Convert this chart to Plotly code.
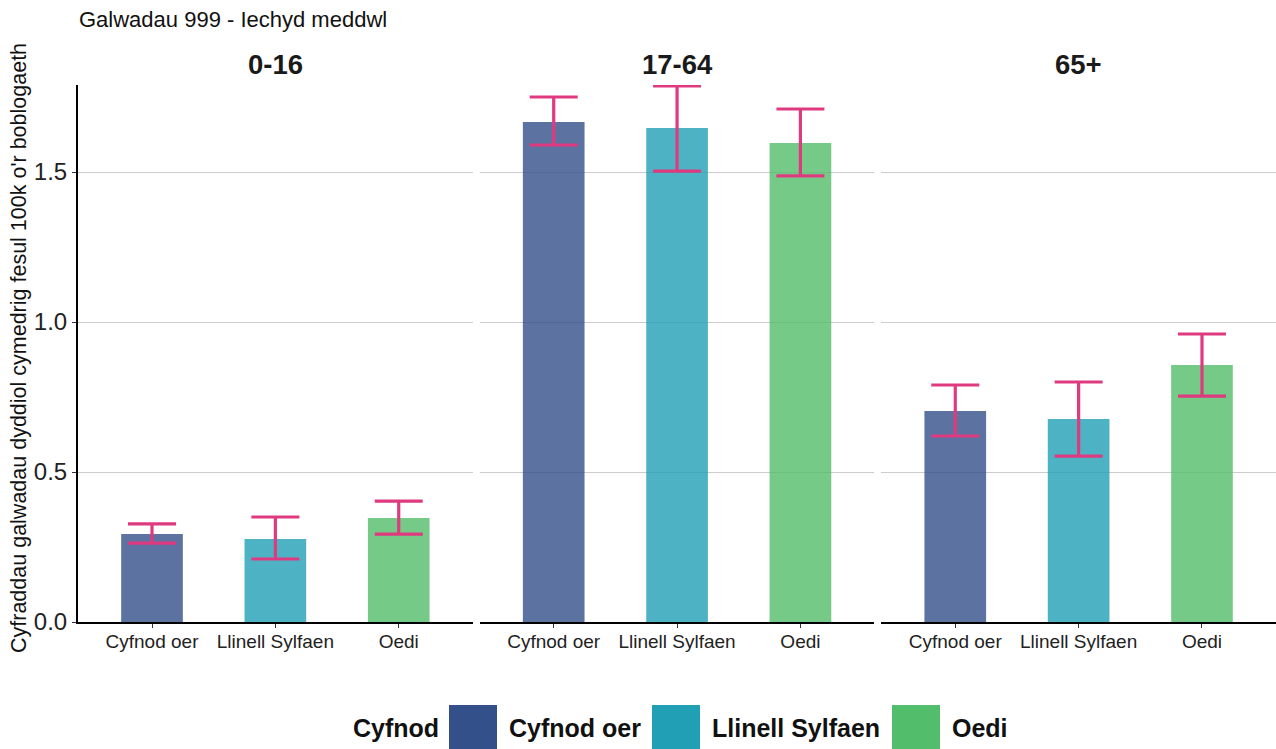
"""999 mental-health calls: mean daily rate per 100k by period, faceted by age group."""
import plotly.graph_objects as go

periods = ["Cyfnod oer", "Llinell Sylfaen", "Oedi"]
age_groups = ["0-16", "17-64", "65+"]

rate_0_16 = [0.293, 0.277, 0.347]
upper_0_16 = [0.327, 0.350, 0.403]
lower_0_16 = [0.263, 0.210, 0.293]

rate_17_64 = [1.667, 1.647, 1.597]
upper_17_64 = [1.750, 1.787, 1.710]
lower_17_64 = [1.590, 1.503, 1.487]

rate_65 = [0.703, 0.677, 0.857]
upper_65 = [0.790, 0.800, 0.960]
lower_65 = [0.620, 0.553, 0.753]

y_ticks = [0.0, 0.5, 1.0, 1.5]

PERIOD_COLORS = ["#33508A", "#21A0B5", "#52BD6A"]
ERR_COLOR = "#DF3A80"
FONT = "Liberation Sans, Arial, sans-serif"

W, H = 1276, 749
ML, MR, MT, MB = 78, 0, 85, 127
PW, PH = W - ML - MR, H - MT - MB


def px_x(px):
    return (px - ML) / PW


def px_y(py):
    return (H - MB - py) / PH


panels = [
    (rate_0_16, upper_0_16, lower_0_16),
    (rate_17_64, upper_17_64, lower_17_64),
    (rate_65, upper_65, lower_65),
]
domains = [[0.0, 0.3295], [0.3353, 0.6648], [0.6705, 1.0]]

fig = go.Figure()
layout_axes = {}
for i, (rates, upper, lower) in enumerate(panels):
    suffix = "" if i == 0 else str(i + 1)
    fig.add_trace(go.Bar(
        x=periods,
        y=rates,
        xaxis="x" + suffix,
        yaxis="y" + suffix,
        marker=dict(color=PERIOD_COLORS, opacity=0.8, line=dict(width=0)),
        error_y=dict(
            type="data",
            symmetric=False,
            array=[u - r for u, r in zip(upper, rates)],
            arrayminus=[r - l for r, l in zip(rates, lower)],
            color=ERR_COLOR,
            thickness=3.2,
            width=24,
        ),
        showlegend=False,
    ))
    layout_axes["xaxis" + suffix] = dict(
        domain=domains[i],
        anchor="y" + suffix,
        range=[-0.6, 2.6],
        showline=True,
        linecolor="black",
        linewidth=2,
        ticks="outside",
        ticklen=4,
        tickcolor="#333333",
        ticklabelstandoff=-3,
        tickfont=dict(size=19, color="#222222", family=FONT),
        showgrid=False,
    )
    layout_axes["yaxis" + suffix] = dict(
        anchor="x" + suffix,
        range=[0, 1.79],
        tickvals=y_ticks,
        tickformat=".1f",
        showgrid=True,
        gridcolor="#CCCCCC",
        gridwidth=1,
        zeroline=False,
        showline=(i == 0),
        linecolor="black",
        linewidth=2,
        ticks="outside" if i == 0 else "",
        ticklen=4,
        tickcolor="#333333",
        showticklabels=(i == 0),
        tickfont=dict(size=24, color="#222222", family=FONT),
    )
    if i > 0:
        layout_axes["yaxis" + suffix]["matches"] = "y"

annotations = []
# facet strip titles
for i, grp in enumerate(age_groups):
    annotations.append(dict(
        text=f"<b>{grp}</b>", xref="paper", yref="paper",
        x=(domains[i][0] + domains[i][1]) / 2, y=px_y(64),
        showarrow=False, xanchor="center", yanchor="middle",
        font=dict(size=27.5, color="#1a1a1a", family=FONT),
    ))

# y axis title
annotations.append(dict(
    text="Cyfraddau galwadau dyddiol cymedrig fesul 100k o'r boblogaeth",
    xref="paper", yref="paper", x=px_x(19), y=px_y(348),
    textangle=-90, showarrow=False, xanchor="center", yanchor="middle",
    font=dict(size=21.5, color="#111111", family=FONT),
))

# legend drawn by hand to get the large ggplot-style keys
shapes = []
annotations.append(dict(
    text="<b>Cyfnod</b>", xref="paper", yref="paper",
    x=px_x(351), y=px_y(728), showarrow=False, xanchor="left", yanchor="middle",
    font=dict(size=25, color="#111111", family=FONT),
))
key_left = [449, 652, 892]
for name, color, kx in zip(periods, PERIOD_COLORS, key_left):
    shapes.append(dict(
        type="rect", xref="paper", yref="paper",
        x0=px_x(kx), x1=px_x(kx + 48), y0=px_y(749), y1=px_y(705),
        fillcolor=color, line=dict(width=0),
    ))
    annotations.append(dict(
        text=f"<b>{name}</b>", xref="paper", yref="paper",
        x=px_x(kx + 58), y=px_y(728), showarrow=False, xanchor="left", yanchor="middle",
        font=dict(size=25, color="#111111", family=FONT),
    ))

fig.update_layout(
    width=W,
    height=H,
    margin=dict(l=ML, r=MR, t=MT, b=MB),
    paper_bgcolor="white",
    plot_bgcolor="white",
    bargap=0.5,
    font=dict(family=FONT),
    title=dict(
        text="Galwadau 999 - Iechyd meddwl",
        x=79 / W, xanchor="left", xref="container",
        y=1 - 19 / H, yanchor="middle", yref="container",
        font=dict(size=22, color="#111111", family=FONT),
    ),
    annotations=annotations,
    shapes=shapes,
    **layout_axes,
)

fig.write_html(
    "out.html",
    config={"displayModeBar": False},
    post_script="document.body.style.margin='0';",
)
